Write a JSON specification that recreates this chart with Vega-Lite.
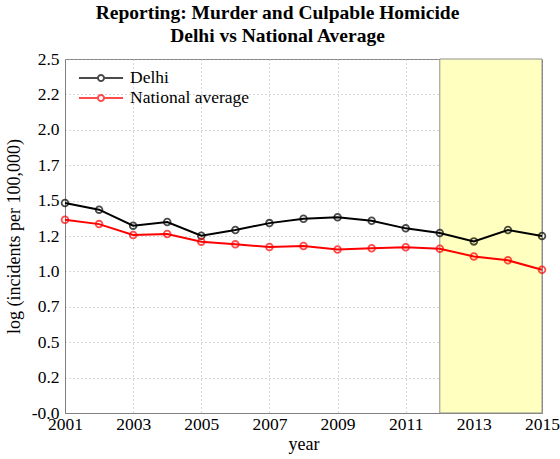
{
  "$schema": "https://vega.github.io/schema/vega-lite/v6.json",
  "width": 477,
  "height": 354,
  "autosize": "none",
  "padding": {"left": 65, "top": 59, "right": 18, "bottom": 46},
  "background": "white",
  "title": {
    "text": ["Reporting: Murder and Culpable Homicide", "Delhi vs National Average"],
    "font": "Liberation Serif",
    "fontSize": 19.5,
    "fontWeight": "bold",
    "color": "black",
    "lineHeight": 23,
    "offset": 4,
    "dx": -26,
    "anchor": "middle"
  },
  "config": {
    "view": {"stroke": "#808080", "strokeWidth": 1},
    "axis": {
      "labelFont": "Liberation Serif",
      "labelFontSize": 17.5,
      "labelColor": "black",
      "labelOverlap": false,
      "labelFlush": false,
      "labelBound": false,
      "titleFont": "Liberation Serif",
      "titleFontSize": 18,
      "titleFontWeight": "normal",
      "titleColor": "black",
      "domainColor": "#808080",
      "gridColor": "#b0b0b0",
      "gridDash": [1, 3],
      "gridWidth": 1,
      "ticks": false
    },
    "legend": {
      "labelFont": "Liberation Serif",
      "labelFontSize": 17.5,
      "labelColor": "black"
    }
  },
  "layer": [
    {
      "data": {"values": [{"start": 2012, "end": 2015, "lo": 0, "hi": 2.5}]},
      "mark": {"type": "rect", "fill": "#ffffbf", "stroke": "#909090", "strokeWidth": 1},
      "encoding": {
        "x": {
          "field": "start", "type": "quantitative",
          "scale": {"domain": [2001, 2015], "nice": false, "zero": false},
          "axis": {
            "title": "year",
            "values": [2001, 2003, 2005, 2007, 2009, 2011, 2013, 2015],
            "format": "d",
            "grid": true,
            "labelPadding": 2,
            "titlePadding": 3
          }
        },
        "x2": {"field": "end"},
        "y": {
          "field": "lo", "type": "quantitative",
          "scale": {"domain": [0, 2.5], "nice": false, "zero": false},
          "axis": {
            "title": "log (incidents per 100,000)",
            "values": [0, 0.25, 0.5, 0.75, 1, 1.25, 1.5, 1.75, 2, 2.25, 2.5],
            "labelExpr": "datum.value == 0 ? '-0.0' : format(floor(datum.value * 10 + 0.000001) / 10, '.1f')",
            "grid": true,
            "labelPadding": 6,
            "titlePadding": 8
          }
        },
        "y2": {"field": "hi"}
      }
    },
    {
      "data": {"values": [
        {"year": 2001, "series": "Delhi", "value": 1.483},
        {"year": 2002, "series": "Delhi", "value": 1.436},
        {"year": 2003, "series": "Delhi", "value": 1.323},
        {"year": 2004, "series": "Delhi", "value": 1.349},
        {"year": 2005, "series": "Delhi", "value": 1.252},
        {"year": 2006, "series": "Delhi", "value": 1.292},
        {"year": 2007, "series": "Delhi", "value": 1.341},
        {"year": 2008, "series": "Delhi", "value": 1.372},
        {"year": 2009, "series": "Delhi", "value": 1.382},
        {"year": 2010, "series": "Delhi", "value": 1.358},
        {"year": 2011, "series": "Delhi", "value": 1.304},
        {"year": 2012, "series": "Delhi", "value": 1.271},
        {"year": 2013, "series": "Delhi", "value": 1.212},
        {"year": 2014, "series": "Delhi", "value": 1.292},
        {"year": 2015, "series": "Delhi", "value": 1.250},
        {"year": 2001, "series": "National average", "value": 1.365},
        {"year": 2002, "series": "National average", "value": 1.334},
        {"year": 2003, "series": "National average", "value": 1.257},
        {"year": 2004, "series": "National average", "value": 1.264},
        {"year": 2005, "series": "National average", "value": 1.210},
        {"year": 2006, "series": "National average", "value": 1.191},
        {"year": 2007, "series": "National average", "value": 1.172},
        {"year": 2008, "series": "National average", "value": 1.179},
        {"year": 2009, "series": "National average", "value": 1.155},
        {"year": 2010, "series": "National average", "value": 1.163},
        {"year": 2011, "series": "National average", "value": 1.170},
        {"year": 2012, "series": "National average", "value": 1.160},
        {"year": 2013, "series": "National average", "value": 1.106},
        {"year": 2014, "series": "National average", "value": 1.078},
        {"year": 2015, "series": "National average", "value": 1.012}
      ]},
      "encoding": {
        "x": {
          "field": "year", "type": "quantitative",
          "scale": {"domain": [2001, 2015], "nice": false, "zero": false},
          "axis": {
            "title": "year",
            "values": [2001, 2003, 2005, 2007, 2009, 2011, 2013, 2015],
            "format": "d",
            "grid": true,
            "labelPadding": 2,
            "titlePadding": 3
          }
        },
        "y": {
          "field": "value", "type": "quantitative",
          "scale": {"domain": [0, 2.5], "nice": false, "zero": false},
          "axis": {
            "title": "log (incidents per 100,000)",
            "values": [0, 0.25, 0.5, 0.75, 1, 1.25, 1.5, 1.75, 2, 2.25, 2.5],
            "labelExpr": "datum.value == 0 ? '-0.0' : format(floor(datum.value * 10 + 0.000001) / 10, '.1f')",
            "grid": true,
            "labelPadding": 6,
            "titlePadding": 8
          }
        },
        "color": {
          "field": "series", "type": "nominal",
          "scale": {"domain": ["Delhi", "National average"], "range": ["black", "#ff0000"]},
          "legend": {
            "title": null,
            "orient": "none",
            "legendX": 24.5,
            "legendY": 7.5,
            "symbolType": "M-2.1,0H-0.29M0.29,0A0.29,0.29,0,1,1,-0.29,0A0.29,0.29,0,1,1,0.29,0M0.29,0H2.1",
            "symbolSize": 441,
            "symbolStrokeWidth": 2,
            "symbolFillColor": "transparent",
            "labelOffset": 17.5,
            "rowPadding": 0
          }
        }
      },
      "layer": [
        {"mark": {"type": "line", "strokeWidth": 2}},
        {"mark": {"type": "point", "shape": "circle", "filled": false, "size": 45, "strokeWidth": 1.8}}
      ]
    }
  ]
}
